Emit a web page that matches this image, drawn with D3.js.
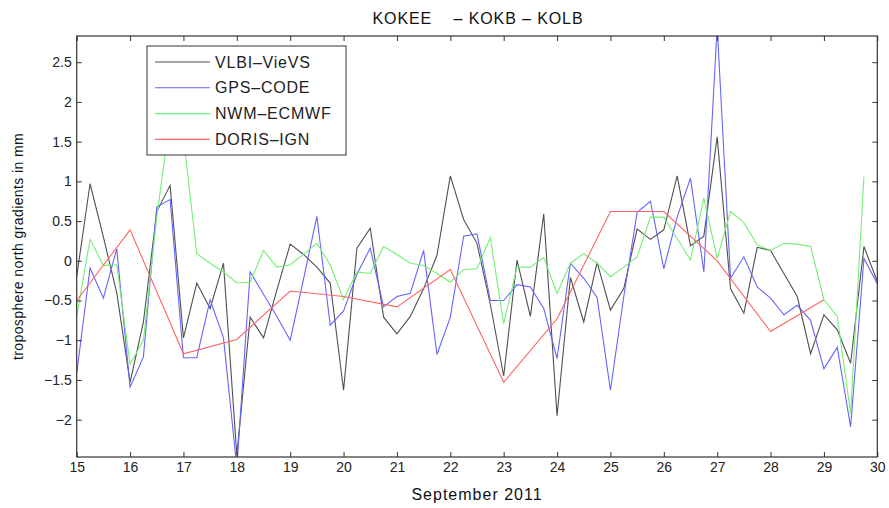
<!DOCTYPE html>
<html>
<head>
<meta charset="utf-8">
<script src="https://cdn.jsdelivr.net/npm/d3@7"></script>
<style>
  html, body { margin: 0; padding: 0; background: #fff; }
  svg { display: block; font-family: "Liberation Sans", Arial, Helvetica, sans-serif; }
</style>
</head>
<body>
<svg id="chart" width="889" height="508"></svg>
<script>
// ---- data ----
const title = "KOKEE    \u2013 KOKB \u2013 KOLB";
const xLabel = "September 2011";
const yLabel = "troposphere north gradients in mm";
const xTicks = [15,16,17,18,19,20,21,22,23,24,25,26,27,28,29,30];
const yTicks = [-2,-1.5,-1,-0.5,0,0.5,1,1.5,2,2.5];
const seriesNames = ["VLBI\u2013VieVS", "GPS\u2013CODE", "NWM\u2013ECMWF", "DORIS\u2013IGN"];

// 6-hourly epochs (days of September 2011)
const epochs6h = d3.range(0, 61).map(i => 15 + i * 0.25);
const epochsDaily = [15,16,17,18,19,20,21,22,23,24,25,26,27,28,29];

const vlbi = [-0.2,0.97,0.3,-0.4,-1.53,-0.77,0.62,0.95,-0.97,-0.28,-0.6,-0.03,-2.45,-0.71,-0.97,-0.37,
  0.21,0.08,-0.08,-0.28,-1.63,0.16,0.41,-0.71,-0.92,-0.7,-0.35,0.07,1.07,0.52,0.22,-0.55,
  -1.45,0.01,-0.7,0.59,-1.95,-0.21,-0.77,-0.02,-0.62,-0.35,0.4,0.27,0.39,1.07,0.19,0.31,
  1.56,-0.35,-0.66,0.17,0.13,-0.16,-0.45,-1.17,-0.68,-0.87,-1.29,0.18,-0.26];
const gps = [-1.42,-0.09,-0.47,0.15,-1.59,-1.21,0.68,0.77,-1.22,-1.22,-0.49,-0.97,-2.6,-0.14,-0.42,-0.7,
  -1.0,-0.23,0.56,-0.81,-0.63,-0.17,0.16,-0.58,-0.45,-0.41,0.13,-1.18,-0.71,0.31,0.34,-0.5,
  -0.5,-0.3,-0.33,-0.6,-1.23,-0.03,-0.22,-0.46,-1.63,-0.45,0.61,0.75,-0.1,0.55,1.04,-0.14,
  2.95,-0.22,0.05,-0.33,-0.47,-0.68,-0.56,-0.75,-1.36,-1.09,-2.09,0.03,-0.29];
const nwm = [-0.7,0.27,-0.06,-0.05,-1.3,-1.0,0.55,1.8,1.55,0.09,-0.03,-0.14,-0.28,-0.27,0.13,-0.08,
  -0.05,0.08,0.22,-0.05,-0.49,-0.14,-0.16,0.18,0.08,-0.03,-0.06,-0.16,-0.27,-0.11,-0.1,0.29,
  -0.79,-0.08,-0.08,0.04,-0.41,-0.03,0.09,-0.03,-0.2,-0.08,0.05,0.55,0.55,0.28,0.01,0.79,
  0.03,0.62,0.48,0.2,0.13,0.22,0.21,0.18,-0.49,-0.7,-1.92,1.06];
const doris = [-0.5,0.39,-1.17,-0.99,-0.38,-0.45,-0.58,-0.11,-1.53,-0.73,0.62,0.62,0.0,-0.89,-0.49];

const colors = ["#505050", "#6464ff", "#74ee74", "#ff6464"];

// ---- layout ----
const m = { left: 76.7, right: 877.3, top: 36, bottom: 457 };
const svg = d3.select("#chart");

const x = d3.scaleLinear().domain([15, 30]).range([m.left, m.right]);
const y = d3.scaleLinear().domain([-2.47, 2.83]).range([m.bottom, m.top]);

const series = [
  { name: seriesNames[0], t: epochs6h, v: vlbi, c: colors[0] },
  { name: seriesNames[1], t: epochs6h, v: gps, c: colors[1] },
  { name: seriesNames[2], t: epochs6h.slice(0, nwm.length), v: nwm, c: colors[2] },
  { name: seriesNames[3], t: epochsDaily, v: doris, c: colors[3] }
];

svg.append("defs").append("clipPath").attr("id", "clip")
  .append("rect").attr("x", m.left).attr("y", m.top)
  .attr("width", m.right - m.left).attr("height", m.bottom - m.top);

// lines
const line = d3.line().x(d => x(d[0])).y(d => y(d[1]));
const lg = svg.append("g").attr("clip-path", "url(#clip)");
series.forEach(s => {
  lg.append("path")
    .datum(s.t.map((t, i) => [t, s.v[i]]))
    .attr("d", line)
    .attr("fill", "none")
    .attr("stroke", s.c)
    .attr("stroke-width", 1.1)
    .attr("stroke-linejoin", "miter");
});

// axes (ticks inside, Matlab style)
const axColor = "#333";
const fmt = d => (d < 0 ? "\u2212" : "") + String(Math.abs(d));
const bottomAxis = d3.axisBottom(x).tickValues(xTicks).tickSize(-5).tickPadding(5).tickFormat(d => d);
const topAxis = d3.axisTop(x).tickValues(xTicks).tickSize(-5).tickFormat("");
const leftAxis = d3.axisLeft(y).tickValues(yTicks).tickSize(-5).tickPadding(5).tickFormat(fmt);
const rightAxis = d3.axisRight(y).tickValues(yTicks).tickSize(-5).tickFormat("");

function styleAxis(g) {
  g.select(".domain").remove();
  g.selectAll(".tick line").attr("stroke", axColor);
  g.selectAll("text").attr("fill", "#222").style("font-size", "14px");
}
svg.append("g").attr("transform", `translate(0,${m.bottom})`).call(bottomAxis).call(styleAxis);
svg.append("g").attr("transform", `translate(0,${m.top})`).call(topAxis).call(styleAxis);
svg.append("g").attr("transform", `translate(${m.left},0)`).call(leftAxis).call(styleAxis);
svg.append("g").attr("transform", `translate(${m.right},0)`).call(rightAxis).call(styleAxis);

// frame
svg.append("rect").attr("x", m.left).attr("y", m.top)
  .attr("width", m.right - m.left).attr("height", m.bottom - m.top)
  .attr("fill", "none").attr("stroke", axColor).attr("stroke-width", 1.2);

// title and labels
svg.append("text").attr("x", 478).attr("y", 24).attr("text-anchor", "middle")
  .style("font-size", "16px").style("letter-spacing", "0.9px").attr("fill", "#111")
  .style("white-space", "pre").text(title);
svg.append("text").attr("x", (m.left + m.right) / 2).attr("y", 500).attr("text-anchor", "middle")
  .style("font-size", "16px").style("letter-spacing", "1px").attr("fill", "#111").text(xLabel);
svg.append("text").attr("transform", `translate(23,${(m.top + m.bottom) / 2}) rotate(-90)`)
  .attr("text-anchor", "middle").style("font-size", "14px").style("letter-spacing", "0.4px")
  .attr("fill", "#111").text(yLabel);

// legend
const lgX = 147, lgY = 46, lgW = 199, lgH = 109;
const leg = svg.append("g");
leg.append("rect").attr("x", lgX).attr("y", lgY).attr("width", lgW).attr("height", lgH)
  .attr("fill", "#fff").attr("stroke", "#333").attr("stroke-width", 1);
series.forEach((s, i) => {
  const yy = lgY + 16 + i * 25.8;
  leg.append("line").attr("x1", lgX + 8).attr("x2", lgX + 63).attr("y1", yy).attr("y2", yy)
    .attr("stroke", s.c).attr("stroke-width", 1.1);
  leg.append("text").attr("x", lgX + 68).attr("y", yy + 5.5).style("font-size", "16px")
    .style("letter-spacing", "0.8px").attr("fill", "#222").text(s.name);
});
</script>
</body>
</html>
